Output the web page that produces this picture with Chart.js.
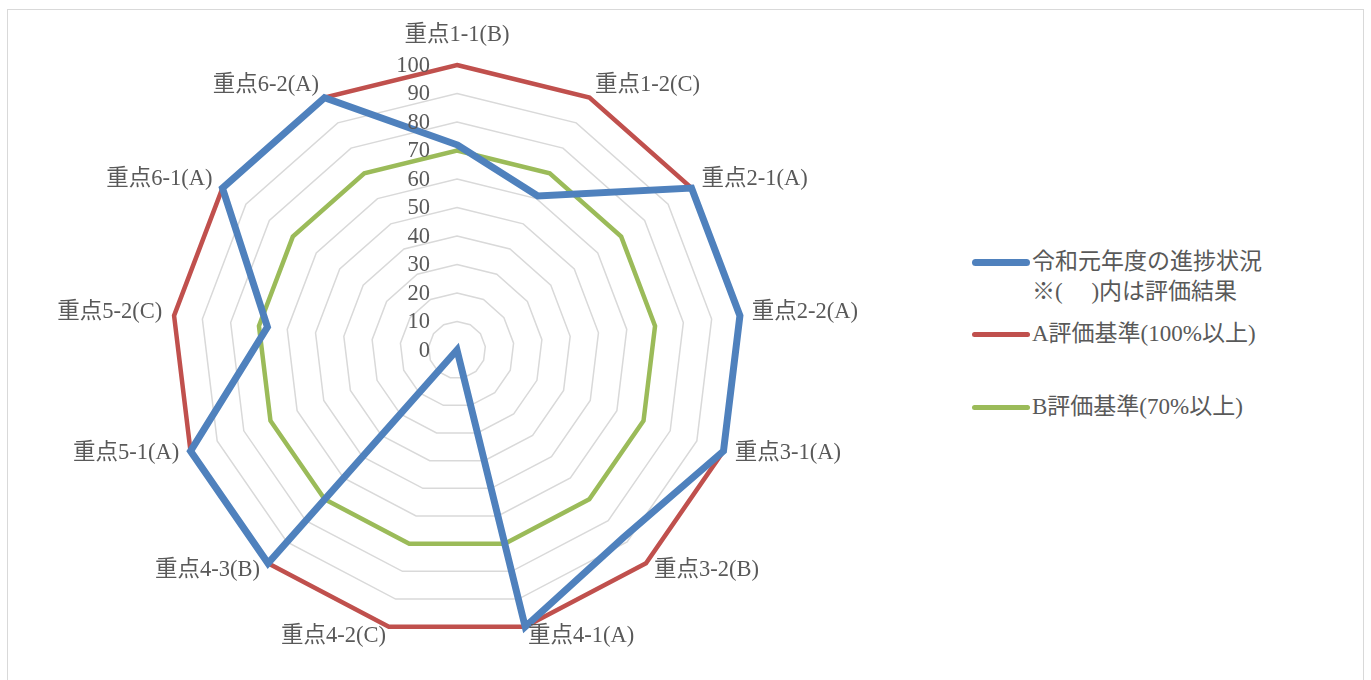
<!DOCTYPE html>
<html>
<head>
<meta charset="utf-8">
<script src="https://cdn.jsdelivr.net/npm/chart.js@4"></script>
<style>
  html, body { margin: 0; padding: 0; background: #fff; overflow: hidden; }
  body { width: 1371px; height: 680px; position: relative; }
  #frame { position: absolute; left: 7px; top: 9px; width: 1355px; height: 700px; border: 1.5px solid #d9d9d9; }
  #holder { position: absolute; left: 0; top: 0; width: 914px; height: 680px; }
  #legend { position: absolute; left: 970px; top: 0; font-family: "Liberation Serif", "Noto Sans CJK JP", serif; font-size: 23px; color: #595959; }
  .item { position: absolute; left: 0; white-space: nowrap; }
  .swatch { position: absolute; left: 2px; width: 58px; border-radius: 4px; }
  .txt { position: absolute; left: 62px; line-height: 30px; }
</style>
</head>
<body>
<div id="frame"></div>
<div id="holder"><canvas id="radar"></canvas></div>
<div id="legend"></div>
<script>
// categories (評価項目)
const categories = ['重点1-1(B)', '重点1-2(C)', '重点2-1(A)', '重点2-2(A)', '重点3-1(A)', '重点3-2(B)',
  '重点4-1(A)', '重点4-2(C)', '重点4-3(B)', '重点5-1(A)', '重点5-2(C)', '重点6-1(A)', '重点6-2(A)'];

// 令和元年度の進捗状況
const progress = [72, 61, 100, 100, 100, 88, 100, 0, 100, 100, 67, 100, 100];
// A評価基準(100%以上)
const criteriaA = [100, 100, 100, 100, 100, 100, 100, 100, 100, 100, 100, 100, 100];
// B評価基準(70%以上)
const criteriaB = [70, 70, 70, 70, 70, 70, 70, 70, 70, 70, 70, 70, 70];

const seriesNames = ['令和元年度の進捗状況\n※(　 )内は評価結果', 'A評価基準(100%以上)', 'B評価基準(70%以上)'];
const seriesColors = ['#4F81BD', '#C0504D', '#9BBB59'];

const fontFamily = '"Liberation Serif", "Noto Sans CJK JP", serif';
const textColor = '#595959';
const fontSize = 22.5;

// Excel-style labels: tick numbers left of the vertical axis,
// category labels centred vertically on the spoke direction
const excelLabels = {
  id: 'excelLabels',
  afterDatasetsDraw(chart) {
    const r = chart.scales.r;
    const ctx = chart.ctx;
    ctx.save();
    ctx.font = fontSize + 'px ' + fontFamily;
    ctx.fillStyle = textColor;
    ctx.textBaseline = 'middle';

    ctx.textAlign = 'right';
    r.ticks.forEach(t => {
      const d = r.getDistanceFromCenterForValue(t.value);
      ctx.fillText(String(t.value), r.xCenter - 27, r.yCenter - d + 1);
    });

    const outer = r.getDistanceFromCenterForValue(r.max) + 12;
    chart.data.labels.forEach((lab, i) => {
      const p = r.getPointPosition(i, outer);
      let y = p.y - 2;
      const dx = p.x - r.xCenter;
      if (Math.abs(dx) < 1) {
        ctx.textAlign = 'center';
        y -= 16;
      } else {
        ctx.textAlign = dx > 0 ? 'left' : 'right';
      }
      ctx.fillText(lab, p.x, y);
    });
    ctx.restore();
  }
};

const ctx = document.getElementById('radar').getContext('2d');
const radarChart = new Chart(ctx, {
  type: 'radar',
  data: {
    labels: categories,
    datasets: [
      { label: seriesNames[0], data: progress, borderColor: seriesColors[0], borderWidth: 7 },
      { label: seriesNames[1], data: criteriaA, borderColor: seriesColors[1], borderWidth: 4.5 },
      { label: seriesNames[2], data: criteriaB, borderColor: seriesColors[2], borderWidth: 4.5 }
    ].map(ds => Object.assign(ds, { fill: false, pointRadius: 0, pointHoverRadius: 0, tension: 0 }))
  },
  options: {
    responsive: true,
    maintainAspectRatio: false,
    animation: false,
    layout: { padding: { top: 65, bottom: 45, left: 0, right: 0 } },
    plugins: {
      legend: { display: false },
      tooltip: { enabled: false }
    },
    scales: {
      r: {
        min: 0,
        max: 100,
        ticks: { stepSize: 10, display: false },
        grid: { color: '#d9d9d9', lineWidth: 1.5 },
        angleLines: { display: false },
        pointLabels: { display: false }
      }
    }
  },
  plugins: [excelLabels]
});

// legend on the right, built from the datasets
const legendRows = [262, 334, 407];
const legend = document.getElementById('legend');
radarChart.data.datasets.forEach((ds, i) => {
  const item = document.createElement('div');
  item.className = 'item';
  item.style.top = legendRows[i] + 'px';
  const sw = document.createElement('div');
  sw.className = 'swatch';
  const h = i === 0 ? 7 : 5;
  sw.style.height = h + 'px';
  sw.style.top = (-h / 2) + 'px';
  sw.style.background = ds.borderColor;
  const tx = document.createElement('div');
  tx.className = 'txt';
  tx.style.top = '-15px';
  tx.innerHTML = ds.label.split('\n').map(s => '<div>' + s + '</div>').join('');
  item.appendChild(sw);
  item.appendChild(tx);
  legend.appendChild(item);
});
</script>
</body>
</html>
